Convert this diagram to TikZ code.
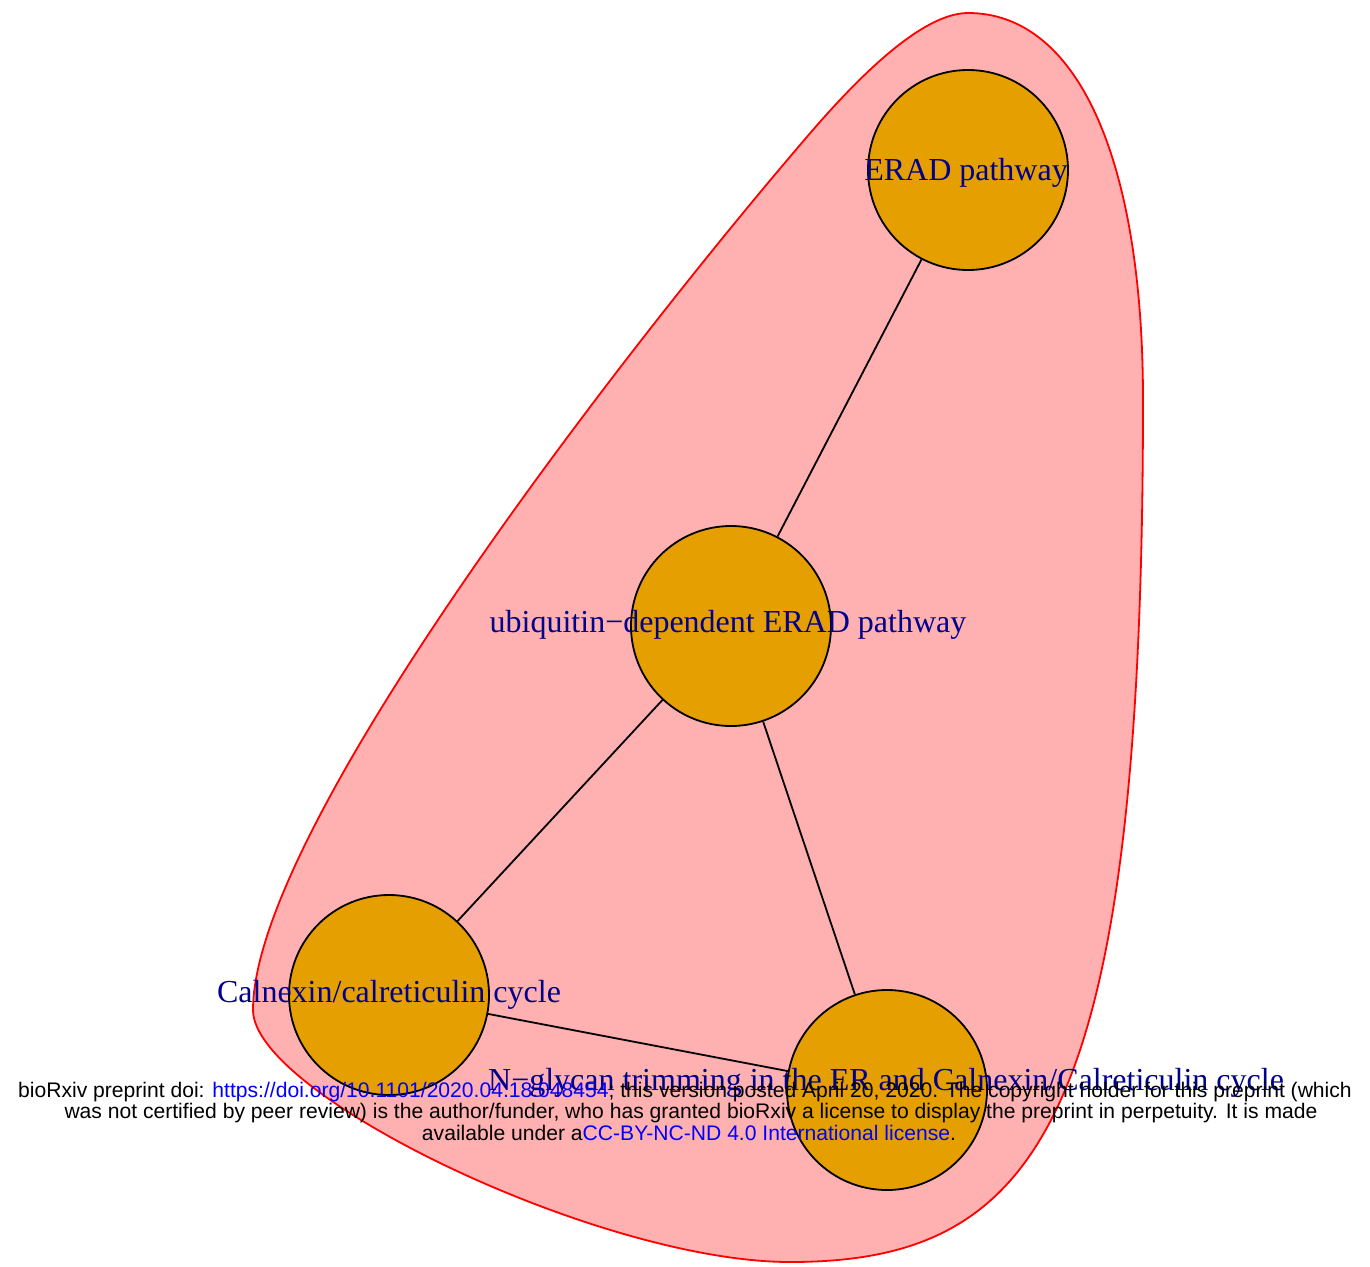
\documentclass[tikz,border=0pt]{standalone}
\usepackage{fontspec}
\setmainfont{Liberation Serif}
\newfontfamily\sansf{Liberation Sans}
\definecolor{hullfill}{RGB}{255,176,176}
\definecolor{nodefill}{RGB}{230,159,0}
\definecolor{labcol}{RGB}{0,0,139}
\begin{document}
\begin{tikzpicture}[x=1pt,y=-1pt,
  vert/.style={circle,draw=black,line width=1.8pt,fill=nodefill,minimum size=200pt,inner sep=0pt},
  lab/.style={anchor=base,text=labcol,font=\fontsize{32}{38}\selectfont,inner sep=0pt},
  edge/.style={draw=black,line width=1.8pt},
  hull/.style={fill=hullfill,draw=red,line width=1.8pt},
  foot/.style={anchor=base,font=\sansf\fontsize{21.1}{24}\selectfont,inner sep=0pt}]
\useasboundingbox (0,0) rectangle (1370,1266);
\filldraw[hull] (968,13)
  .. controls (1078,13) and (1143,160) .. (1143,400)
  .. controls (1143,1120) and (1040,1262) .. (790,1262)
  .. controls (600,1262) and (253,1095) .. (253,1010)
  .. controls (253,830) and (618,358) .. (800,145)
  .. controls (839,99) and (915,13) .. cycle;
% vertices
\node[vert] (nE) at (968,170) {};
\node[vert] (nU) at (731,626) {};
\node[vert] (nC) at (389,995) {};
\node[vert] (nN) at (887,1090) {};
% edges
\draw[edge] (nE) -- (nU);
\draw[edge] (nU) -- (nC);
\draw[edge] (nU) -- (nN);
\draw[edge] (nC) -- (nN);
% labels
\node[lab] (lE) at (966,180) {ERAD pathway};
\node[lab] (lU) at (728,632) {ubiquitin−dependent ERAD pathway};
\node[lab] (lC) at (389,1002) {Calnexin/calreticulin cycle};
\node[lab] (lN) at (886,1090) {N−glycan trimming in the ER and Calnexin/Calreticulin cycle};
% footer
\node[foot] (f1) at (685,1097) {bioRxiv preprint doi: \textcolor{blue}{https://doi.org/10.1101/2020.04.18.048454}; this version posted April 20, 2020. The copyright holder for this preprint (which};
\node[foot] (f2) at (691,1118.5) {was not certified by peer review) is the author/funder, who has granted bioRxiv a license to display the preprint in perpetuity. It is made};
\node[foot] (f3) at (689,1140) {available under a\textcolor{blue}{CC-BY-NC-ND 4.0 International license}.};
\end{tikzpicture}
\end{document}
